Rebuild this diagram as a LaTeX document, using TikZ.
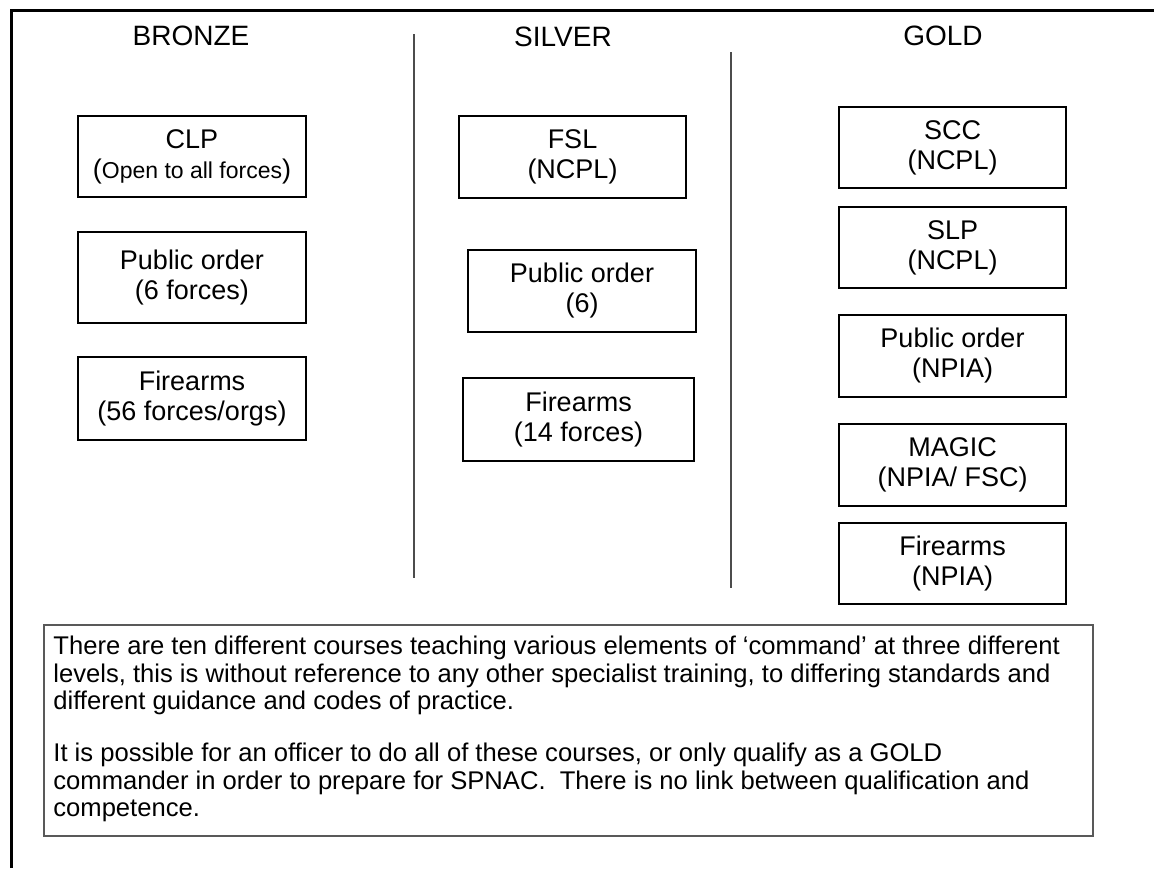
\documentclass[tikz,border=0pt]{standalone}
\usepackage{fontspec}
\setmainfont{Liberation Sans}
\tikzset{
  course/.style={draw=black, line width=0.7pt, minimum width=114pt, minimum height=40.5pt,
    align=center, inner sep=0pt, font=\fontsize{13.5}{15}\selectfont,
    execute at begin node={\rule{0pt}{12.9pt}}},
  head/.style={anchor=base, font=\fontsize{14}{16}\selectfont, inner sep=0pt},
  divider/.style={draw=black!70, line width=1pt},
  frameline/.style={draw=black, line width=1.5pt},
  notebox/.style={draw=black!65, line width=0.9pt, anchor=north west, inner sep=0pt},
  notetext/.style={anchor=north west, inner sep=0pt, align=left, font=\fontsize{12.8}{13.8}\selectfont},
}
\begin{document}
\begin{tikzpicture}[x=0.5pt, y=-0.5pt]
\useasboundingbox (0,0) rectangle (1154,868);
% outer frame (only left and top visible)
\coordinate (fb) at (11,868);
\coordinate (fc) at (11,10);
\coordinate (fr) at (1154,10);
\draw[frameline] (fb) -- (fc) -- (fr);
% headings
\node[head] (hb) at (191,45) {BRONZE};
\node[head] (hs) at (563,46) {SILVER};
\node[head] (hg) at (943,45) {GOLD};
% dividers
\coordinate (d1t) at (414,34);
\coordinate (d1b) at (414,578);
\coordinate (d2t) at (731,52);
\coordinate (d2b) at (731,588);
\draw[divider] (d1t) -- (d1b);
\draw[divider] (d2t) -- (d2b);
% bronze
\node[course] (b1) at (192,156.5) {CLP\\({\fontsize{11.5}{15}\selectfont Open to all forces})};
\node[course, minimum height=45.5pt] (b2) at (192,277.5) {Public order\\(6 forces)};
\node[course, minimum height=41.5pt] (b3) at (192,398.5) {Firearms\\(56 forces/orgs)};
% silver
\node[course, minimum width=113.5pt, minimum height=41pt] (s1) at (572.5,157) {FSL\\(NCPL)};
\node[course, minimum height=41pt] (s2) at (582,291) {Public order\\(6)};
\node[course, minimum width=115.5pt, minimum height=41.5pt] (s3) at (578.5,419.5) {Firearms\\(14 forces)};
% gold
\node[course, minimum width=113.5pt] (g1) at (952.5,147.5) {SCC\\(NCPL)};
\node[course, minimum width=113.5pt] (g2) at (952.5,247.5) {SLP\\(NCPL)};
\node[course, minimum width=113.5pt, minimum height=41pt] (g3) at (952.5,356) {Public order\\(NPIA)};
\node[course, minimum width=113.5pt, minimum height=41pt] (g4) at (952.5,465) {MAGIC\\(NPIA/ FSC)};
\node[course, minimum width=113.5pt] (g5) at (952.5,563.5) {Firearms\\(NPIA)};
% note
\node[notebox, minimum width=524.5pt, minimum height=105.5pt] (note) at (43,624) {};
\node[notetext] (notetxt) at (53,635.5) {There are ten different courses teaching various elements of ‘command’ at three different\\
levels, this is without reference to any other specialist training, to differing standards and\\
different guidance and codes of practice.\\[12.2pt]
It is possible for an officer to do all of these courses, or only qualify as a GOLD\\
commander in order to prepare for SPNAC.\ \ There is no link between qualification and\\
competence.};
\end{tikzpicture}
\end{document}
